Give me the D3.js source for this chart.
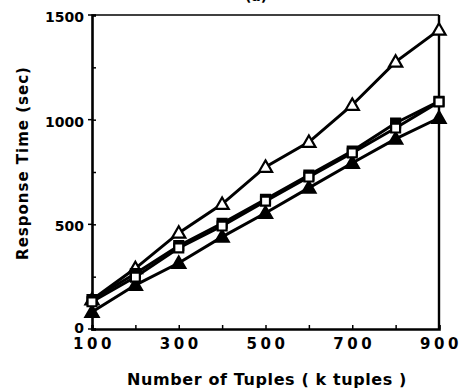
<!DOCTYPE html>
<html>
<head>
<meta charset="utf-8">
<script src="https://cdn.jsdelivr.net/npm/d3@7"></script>
<style>
  body { margin: 0; background: #fff; }
  text { font-family: 'DejaVu Sans', 'Liberation Sans', sans-serif; font-weight: bold; fill: #000; }
</style>
</head>
<body>
<script>
const tuples = [100, 200, 300, 400, 500, 600, 700, 800, 900];
const openTri = [140, 290, 459, 597, 774, 893, 1070, 1276, 1429];
const filledSq = [140, 265, 398, 505, 620, 735, 850, 984, 1088];
const openSq = [130, 248, 387, 492, 611, 726, 841, 960, 1085];
const filledTri = [81, 210, 315, 440, 554, 674, 793, 908, 1008];
const xLabels = [100, 300, 500, 700, 900];
const yLabels = [0, 500, 1000, 1500];

const W = 463, H = 390;
const m = {left: 92, right: 24, top: 15, bottom: 61};

const svg = d3.select('body').append('svg')
  .attr('width', W).attr('height', H);

const x = d3.scaleLinear().domain([100, 900]).range([m.left, W - m.right]);
const y = d3.scaleLinear().domain([0, 1500]).range([H - m.bottom, m.top]);

// frame
svg.append('line').attr('x1', x(100)).attr('x2', x(900)).attr('y1', y(1500)).attr('y2', y(1500))
  .attr('stroke', '#000').attr('stroke-width', 1.5);
svg.append('line').attr('x1', x(900)).attr('x2', x(900)).attr('y1', y(1500)).attr('y2', y(0))
  .attr('stroke', '#000').attr('stroke-width', 2.4);

// axes
const xAxis = svg.append('g').attr('transform', `translate(0,${y(0)})`)
  .call(d3.axisBottom(x).tickValues(tuples).tickSize(-4).tickFormat(''));
const yAxis = svg.append('g').attr('transform', `translate(${x(100)},0)`)
  .call(d3.axisLeft(y).tickValues([0, 250, 500, 750, 1000, 1250, 1500]).tickSize(-4).tickFormat(''));
[xAxis, yAxis].forEach(a => {
  a.select('.domain').attr('stroke', '#000').attr('stroke-width', 2.6);
  a.selectAll('.tick line').attr('stroke', '#000').attr('stroke-width', 1.5);
});
// small outer stubs at labelled y ticks
svg.selectAll('.ystub').data(yLabels).enter().append('line')
  .attr('x1', x(100) - 4).attr('x2', x(100))
  .attr('y1', d => y(d)).attr('y2', d => y(d))
  .attr('stroke', '#000').attr('stroke-width', 1.5);

svg.selectAll('.xlab').data(xLabels).enter().append('text')
  .attr('x', d => x(d) + 2).attr('y', y(0) + 20)
  .attr('text-anchor', 'middle').style('font-size', '15px').style('letter-spacing', '3.5px')
  .text(d => d);
svg.selectAll('.ylab').data(yLabels).enter().append('text')
  .attr('x', x(100) - 8).attr('y', d => y(d) + (d === 0 ? 4 : 7))
  .attr('text-anchor', 'end').style('font-size', '14px')
  .text(d => d);

svg.append('text').attr('x', 267).attr('y', 385).attr('text-anchor', 'middle')
  .style('font-size', '16px').style('letter-spacing', '0.6px').text('Number of Tuples ( k tuples )');
svg.append('text').attr('transform', `translate(28,163) rotate(-90)`)
  .attr('text-anchor', 'middle').style('font-size', '15px').style('letter-spacing', '1px')
  .text('Response Time (sec)');
// cropped caption at the top edge
svg.append('text').attr('x', 256).attr('y', 1).attr('text-anchor', 'middle')
  .style('font-size', '14px').text('(a)');

// series
const line = d3.line().x(d => x(d[0])).y(d => y(d[1]));
const series = [
  {vals: openTri, shape: d3.symbolTriangle, fill: '#fff'},
  {vals: filledTri, shape: d3.symbolTriangle, fill: '#000'},
  {vals: filledSq, shape: d3.symbolSquare, fill: '#000'},
  {vals: openSq, shape: d3.symbolSquare, fill: '#fff'}
];
series.forEach(s => {
  const pts = tuples.map((t, i) => [t, s.vals[i]]);
  svg.append('path').attr('d', line(pts)).attr('fill', 'none')
    .attr('stroke', '#000').attr('stroke-width', 3);
});
series.forEach(s => {
  const pts = tuples.map((t, i) => [t, s.vals[i]]);
  svg.selectAll(null).data(pts).enter().append('path')
    .attr('d', d3.symbol().type(s.shape).size(s.shape === d3.symbolSquare ? 80 : 75))
    .attr('transform', d => `translate(${x(d[0])},${y(d[1]) + (s.shape === d3.symbolTriangle ? 1 : 0)})`)
    .attr('fill', s.fill).attr('stroke', '#000').attr('stroke-width', 2.2);
});
</script>
</body>
</html>
